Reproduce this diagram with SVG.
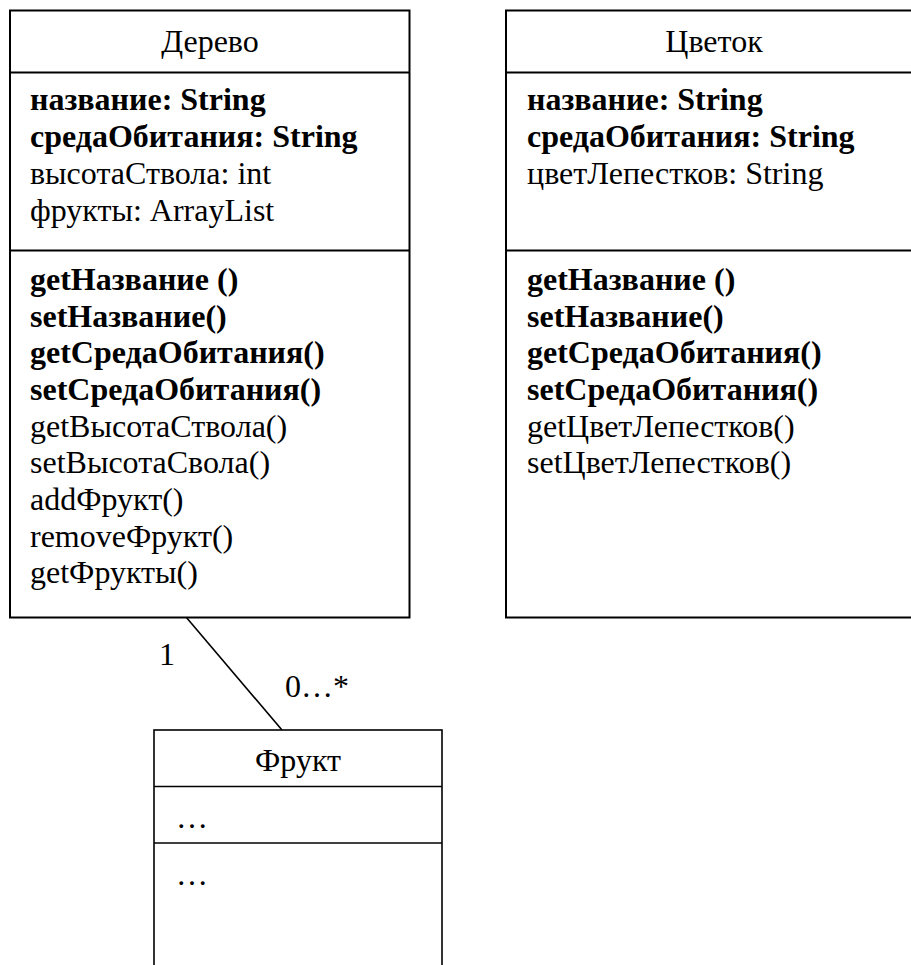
<svg xmlns="http://www.w3.org/2000/svg" width="911" height="965" viewBox="0 0 911 965">
<style>
  .box{fill:#fff;stroke:#000;stroke-width:2}
  .sep{stroke:#000;stroke-width:2}
  .thin{fill:#fff;stroke:#000;stroke-width:1.6}
  .sepT{stroke:#000;stroke-width:1.6}
  text{font-family:"Liberation Serif","Times New Roman",serif;font-size:32px;fill:#000}
  .b{font-weight:bold}
  .c{text-anchor:middle}
</style>
<rect width="911" height="965" fill="#fff"/>
<g id="connectors">
  <line x1="186" y1="617" x2="282" y2="730" stroke="#000" stroke-width="1.6"/>
  <text x="159" y="665">1</text>
  <text x="285" y="697">0…*</text>
</g>
<g id="derevo">
  <rect class="box" x="10" y="10.5" width="399.5" height="607"/>
  <line class="sep" x1="10" y1="72.5" x2="409.5" y2="72.5"/>
  <line class="sep" x1="10" y1="250.5" x2="409.5" y2="250.5"/>
  <text class="c" x="210" y="52">Дерево</text>
  <text class="b" x="30" y="110">название: String</text>
  <text class="b" x="30" y="147">средаОбитания: String</text>
  <text x="30" y="184">высотаСтвола: int</text>
  <text x="30" y="221">фрукты: ArrayList</text>
  <text class="b" x="30" y="290">getНазвание ()</text>
  <text class="b" x="30" y="327">setНазвание()</text>
  <text class="b" x="30" y="363">getСредаОбитания()</text>
  <text class="b" x="30" y="400">setСредаОбитания()</text>
  <text x="30" y="437">getВысотаСтвола()</text>
  <text x="30" y="473">setВысотаСвола()</text>
  <text x="30" y="510">addФрукт()</text>
  <text x="30" y="547">removeФрукт()</text>
  <text x="30" y="583">getФрукты()</text>
</g>
<g id="cvetok">
  <rect class="box" x="506" y="10.5" width="420" height="607"/>
  <line class="sep" x1="506" y1="72.5" x2="926" y2="72.5"/>
  <line class="sep" x1="506" y1="250.5" x2="926" y2="250.5"/>
  <text class="c" x="714" y="52">Цветок</text>
  <text class="b" x="527" y="110">название: String</text>
  <text class="b" x="527" y="147">средаОбитания: String</text>
  <text x="527" y="184">цветЛепестков: String</text>
  <text class="b" x="527" y="290">getНазвание ()</text>
  <text class="b" x="527" y="327">setНазвание()</text>
  <text class="b" x="527" y="363">getСредаОбитания()</text>
  <text class="b" x="527" y="400">setСредаОбитания()</text>
  <text x="527" y="437">getЦветЛепестков()</text>
  <text x="527" y="473">setЦветЛепестков()</text>
</g>
<g id="frukt">
  <rect class="thin" x="154" y="730" width="288" height="260"/>
  <line class="sepT" x1="154" y1="786.5" x2="442" y2="786.5"/>
  <line class="sepT" x1="154" y1="843" x2="442" y2="843"/>
  <text class="c" x="298" y="771">Фрукт</text>
  <text x="176" y="828">…</text>
  <text x="176" y="885">…</text>
</g>
</svg>
